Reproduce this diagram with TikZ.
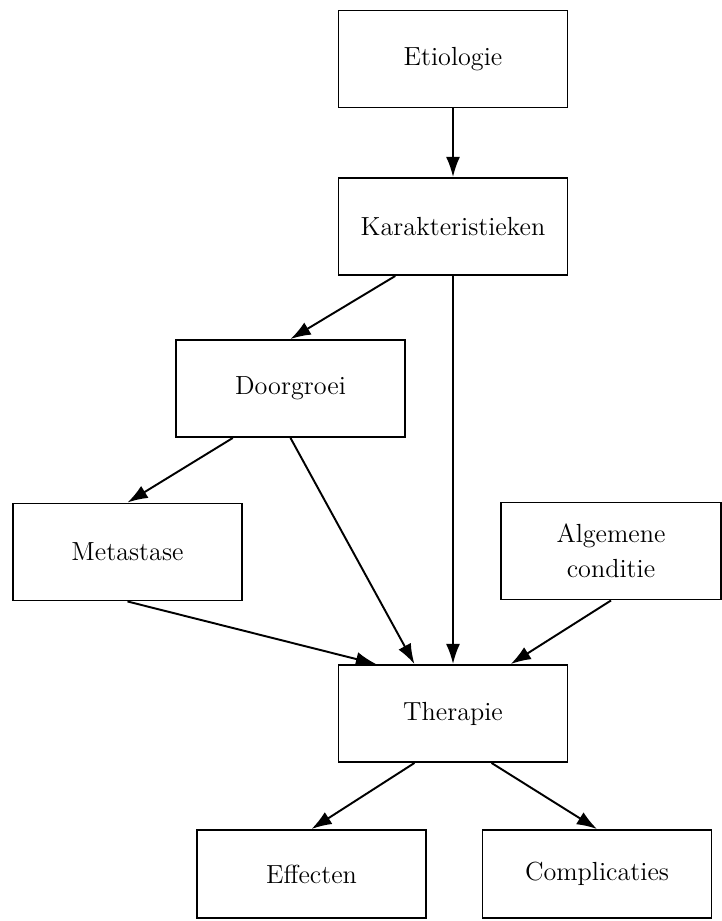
\documentclass[tikz,border=0pt]{standalone}
\usepackage{tikz}
\usetikzlibrary{positioning,arrows.meta,calc}

\begin{document}
\begin{tikzpicture}[
    every node/.style={font=\fontsize{14.9}{20}\selectfont},
    blok/.style={draw, line width=1.1pt, minimum width=4.58cm, minimum height=1.94cm, align=center, inner sep=2pt},
    pijl/.style={-{Latex[length=11.5pt,width=8pt]}, line width=1.1pt}
]
    % Canvas (image proportions 722 x 921)
    \useasboundingbox (0, 0) rectangle (14.44, -18.42);

    % Boxes, top to bottom
    \node[blok] (etio) at (9.06, -1.18) {Etiologie};
    \node[blok] (kar) at (9.06, -4.53) {Karakteristieken};
    \node[blok] (door) at (5.81, -7.77) {Doorgroei};
    \node[blok] (meta) at (2.55, -11.04) {Metastase};
    \node[blok, minimum width=4.4cm] (alg) at (12.22, -11.02) {Algemene\\conditie};
    \node[blok] (ther) at (9.06, -14.27) {Therapie};
    \node[blok, minimum height=1.76cm] (eff) at (6.23, -17.48) {Effecten};
    \node[blok, minimum height=1.76cm] (comp) at (11.94, -17.48) {Complicaties};

    % Connectors
    \draw[pijl] (etio.south) -- (kar.north);
    \draw[pijl] ($(kar.south west)!0.25!(kar.south east)$) -- (door.north);
    \draw[pijl] (kar.south) -- (ther.north);
    \draw[pijl] ($(door.south west)!0.25!(door.south east)$) -- (meta.north);
    \draw[pijl] (door.south) -- ($(ther.north west)!0.333!(ther.north east)$);
    \draw[pijl] (meta.south) -- ($(ther.north west)!0.167!(ther.north east)$);
    \draw[pijl] (alg.south) -- ($(ther.north west)!0.75!(ther.north east)$);

    % Therapy outcomes
    \draw[pijl] ($(ther.south west)!0.333!(ther.south east)$) -- (eff.north);
    \draw[pijl] ($(ther.south west)!0.667!(ther.south east)$) -- (comp.north);

\end{tikzpicture}
\end{document}
